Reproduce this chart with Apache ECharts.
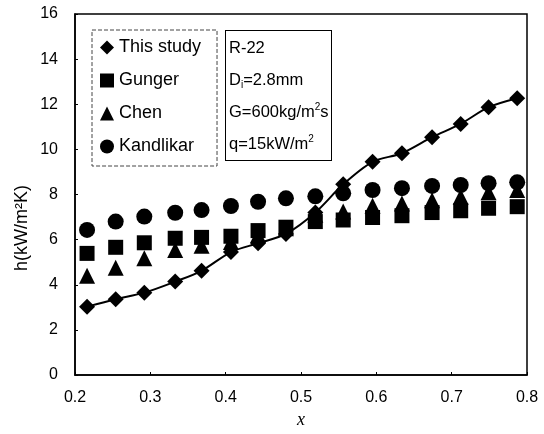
<!DOCTYPE html>
<html>
<head>
<meta charset="utf-8">
<script src="https://cdn.jsdelivr.net/npm/echarts@6/dist/echarts.min.js"></script>
<style>html,body{margin:0;padding:0;background:#fff}#c{width:544px;height:434px}</style>
</head>
<body>
<div id="c"></div>
<script>
var xq = [0.216, 0.254, 0.292, 0.333, 0.368, 0.407, 0.443, 0.480, 0.519, 0.556, 0.595, 0.634, 0.674, 0.712, 0.749, 0.787];
var thisStudy = [3.03, 3.36, 3.65, 4.14, 4.62, 5.45, 5.84, 6.25, 7.2, 8.45, 9.45, 9.83, 10.54, 11.13, 11.87, 12.27];
var gunger = [5.39, 5.66, 5.86, 6.06, 6.1, 6.15, 6.4, 6.55, 6.80, 6.87, 6.98, 7.06, 7.2, 7.28, 7.39, 7.46];
var chen = [4.40, 4.75, 5.17, 5.54, 5.73, 5.9, 6.2, 6.5, 7.1, 7.25, 7.5, 7.6, 7.75, 7.9, 8.1, 8.2];
var kandlikar = [6.43, 6.80, 7.02, 7.19, 7.31, 7.49, 7.68, 7.83, 7.92, 8.05, 8.20, 8.28, 8.38, 8.42, 8.50, 8.54];
var seriesNames = ['This study', 'Gunger', 'Chen', 'Kandlikar'];
var yAxisTitle = 'h(kW/m²K)';
var xAxisTitle = 'x';

function pairs(ys) { return xq.map(function (x, i) { return [x, ys[i]]; }); }
var FONT = 'Liberation Sans, Arial, sans-serif';
var chart = echarts.init(document.getElementById('c'));
chart.setOption({
  animation: false,
  backgroundColor: '#fff',
  grid: { left: 75, right: 17, top: 14, bottom: 59, show: true, borderColor: '#000', borderWidth: 1.5, backgroundColor: 'transparent' },
  xAxis: {
    type: 'value', min: 0.2, max: 0.8, interval: 0.1,
    name: xAxisTitle, nameLocation: 'middle', nameGap: 31,
    nameTextStyle: { fontFamily: 'Liberation Serif, serif', fontStyle: 'italic', fontSize: 18, color: '#000' },
    axisLine: { lineStyle: { color: '#000', width: 1.5 } },
    axisTick: { inside: true, length: 3, lineStyle: { color: '#000' } },
    axisLabel: { fontFamily: FONT, fontSize: 16, color: '#000', margin: 15, formatter: function (v) { return v.toFixed(1); } },
    splitLine: { show: false }
  },
  yAxis: {
    type: 'value', min: 0, max: 16, interval: 2,
    axisLine: { lineStyle: { color: '#000', width: 1.5 } },
    axisTick: { inside: true, length: 3, lineStyle: { color: '#000' } },
    axisLabel: { fontFamily: FONT, fontSize: 16, color: '#000', margin: 17 },
    splitLine: { show: false }
  },
  legend: {
    orient: 'vertical', left: 92, top: 30, width: 126,
    padding: [8, 16, 10, 8], itemGap: 14, itemWidth: 14, itemHeight: 14,
    borderColor: '#444', borderWidth: 1, borderType: 'dashed',
    textStyle: { fontFamily: FONT, fontSize: 18, color: '#000', lineHeight: 19 },
    data: [
      { name: seriesNames[0], icon: 'diamond' },
      { name: seriesNames[1], icon: 'rect' },
      { name: seriesNames[2], icon: 'triangle' },
      { name: seriesNames[3], icon: 'circle' }
    ]
  },
  graphic: [{
    type: 'text', left: 225, top: 30, z: 100,
    style: {
      text: '{a|R-22}\n{a|D}{s|i}{a|=2.8mm}\n{a|G=600kg/m}{p|2}{a|s}\n{a|q=15kW/m}{p|2}',
      fill: '#000', font: '16px ' + FONT,
      backgroundColor: '#fff', borderColor: '#000', borderWidth: 1,
      padding: [1, 3, 0, 3], width: 99,
      rich: {
        a: { fontFamily: FONT, fontSize: 16.5, lineHeight: 32, fill: '#000' },
        s: { fontFamily: FONT, fontSize: 10, lineHeight: 32, fill: '#000', padding: [10, 0, 0, 0] },
        p: { fontFamily: FONT, fontSize: 10, lineHeight: 32, fill: '#000', padding: [0, 0, 10, 0] }
      }
    }
  }, {
    type: 'text', x: 22, y: 228, rotation: Math.PI / 2, z: 100,
    style: { text: yAxisTitle, font: '18px ' + FONT, fill: '#000', align: 'center', verticalAlign: 'middle' }
  }],
  series: [
    { name: seriesNames[3], type: 'scatter', data: pairs(kandlikar), symbol: 'circle', symbolSize: 16, itemStyle: { color: '#000', opacity: 1 }, z: 3 },
    { name: seriesNames[1], type: 'scatter', data: pairs(gunger), symbol: 'rect', symbolSize: 15, itemStyle: { color: '#000', opacity: 1 }, z: 3 },
    { name: seriesNames[2], type: 'scatter', data: pairs(chen), symbol: 'triangle', symbolSize: 16, itemStyle: { color: '#000', opacity: 1 }, z: 3 },
    { name: seriesNames[0], type: 'line', data: pairs(thisStudy), smooth: 0.3, symbol: 'diamond', symbolSize: 16, showSymbol: true,
      lineStyle: { color: '#000', width: 2 }, itemStyle: { color: '#000', opacity: 1 }, z: 4 }
  ]
});
</script>
</body>
</html>
